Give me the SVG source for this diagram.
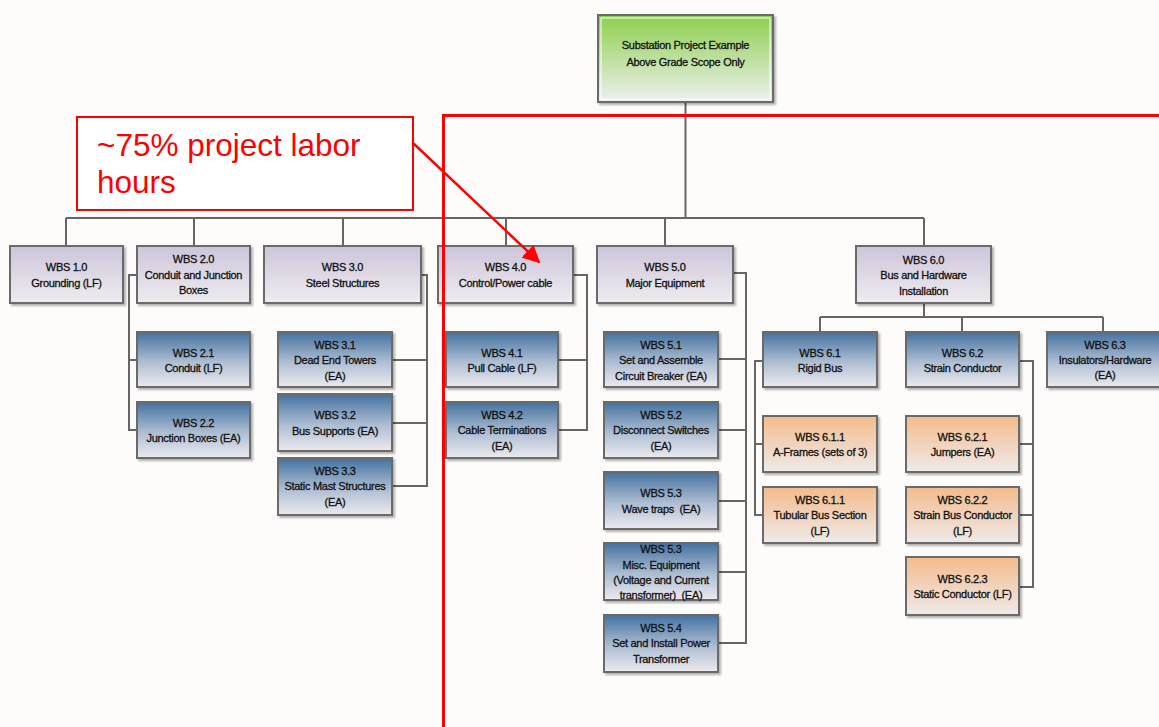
<svg xmlns="http://www.w3.org/2000/svg" width="1159" height="727" viewBox="0 0 1159 727">
<defs>
<linearGradient id="gLav" x1="0" y1="0" x2="0" y2="1"><stop offset="0" stop-color="#cdc4da"/><stop offset="1" stop-color="#eeecef"/></linearGradient>
<linearGradient id="gBlue" x1="0" y1="0" x2="0" y2="1"><stop offset="0" stop-color="#44719f"/><stop offset="0.55" stop-color="#aebed3"/><stop offset="1" stop-color="#eceaee"/></linearGradient>
<linearGradient id="gOr" x1="0" y1="0" x2="0" y2="1"><stop offset="0" stop-color="#f4bb8b"/><stop offset="1" stop-color="#eeeaea"/></linearGradient>
<linearGradient id="gGreen" x1="0" y1="0" x2="0" y2="1"><stop offset="0" stop-color="#8dcf4d"/><stop offset="1" stop-color="#eef0ee"/></linearGradient>
<filter id="sh" x="-10%" y="-10%" width="125%" height="130%"><feDropShadow dx="2" dy="2" stdDeviation="1.2" flood-color="#000" flood-opacity="0.3"/></filter>
<marker id="arr" viewBox="0 0 10 10" refX="9" refY="5" markerWidth="7" markerHeight="7" orient="auto" markerUnits="strokeWidth"><path d="M0 0 L10 5 L0 10 z" fill="#ff0000"/></marker>
<style>
.box{stroke:#6b6b6b;stroke-width:2;filter:url(#sh)}
.lav{fill:url(#gLav)}
.blue{fill:url(#gBlue)}
.or{fill:url(#gOr)}
.t{font-family:"Liberation Sans",Arial,sans-serif;font-size:11px;fill:#111;stroke:#111;stroke-width:0.3px;text-anchor:middle;letter-spacing:-0.3px;white-space:pre}
.con{fill:none;stroke:#666;stroke-width:2}
.red{fill:none;stroke:#ff0000}
.ann{font-family:"Liberation Sans",Arial,sans-serif;font-size:31.5px;fill:#ff0000}
</style>
</defs>
<rect x="0" y="0" width="1159" height="727" fill="#fdfcfb"/>

<g id="connectors">
<path class="con" d="M685.5 102 V218 M66 218 H924 M66 218 V246 M194 218 V246 M343 218 V246 M506 218 V246 M665 218 V246 M924 218 V246"/>
<path class="con" d="M137 275 H129 V430 H137 M129 360 H137"/>
<path class="con" d="M421 275 H427 V486 H392 M427 360 H392 M427 423 H392"/>
<path class="con" d="M573 275 H587 V430 H558 M587 360 H558"/>
<path class="con" d="M733 273 H746 V643 H718 M746 359 H718 M746 430 H718 M746 501 H718 M746 572 H718"/>
<path class="con" d="M924 303 V317 M820 317 H1103 M820 317 V332 M962 317 V332 M1103 317 V332"/>
<path class="con" d="M763 361 H755 V515 H763 M755 444 H763"/>
<path class="con" d="M1019 361 H1033 V587 H1019 M1033 444 H1019 M1033 515 H1019"/>
</g>

<g id="top">
<rect class="box" x="598" y="15" width="175" height="87" fill="url(#gGreen)"/>
<rect x="601" y="18" width="169" height="81" fill="none" stroke="#ffffff" stroke-width="1"/>
<text class="t" x="685.5" y="49">Substation Project Example</text>
<text class="t" x="685.5" y="66">Above Grade Scope Only</text>
</g>

<g id="wbs1"><rect class="box lav" x="10" y="246" width="113" height="57"/>
<text class="t" x="66.5" y="271">WBS 1.0</text><text class="t" x="66.5" y="287">Grounding (LF)</text></g>
<g id="wbs2"><rect class="box lav" x="137" y="246" width="113" height="57"/>
<text class="t" x="193.5" y="263">WBS 2.0</text><text class="t" x="193.5" y="279">Conduit and Junction</text><text class="t" x="193.5" y="294">Boxes</text></g>
<g id="wbs3"><rect class="box lav" x="264" y="246" width="157" height="57"/>
<text class="t" x="342.5" y="271">WBS 3.0</text><text class="t" x="342.5" y="287">Steel Structures</text></g>
<g id="wbs4"><rect class="box lav" x="438" y="246" width="135" height="57"/>
<text class="t" x="505.5" y="271">WBS 4.0</text><text class="t" x="505.5" y="287">Control/Power cable</text></g>
<g id="wbs5"><rect class="box lav" x="597" y="246" width="136" height="57"/>
<text class="t" x="665" y="271">WBS 5.0</text><text class="t" x="665" y="287">Major Equipment</text></g>
<g id="wbs6"><rect class="box lav" x="856" y="246" width="135" height="57"/>
<text class="t" x="923.5" y="264">WBS 6.0</text><text class="t" x="923.5" y="279">Bus and Hardware</text><text class="t" x="923.5" y="295">Installation</text></g>

<g id="wbs21"><rect class="box blue" x="137" y="332" width="113" height="55"/>
<text class="t" x="193.5" y="357">WBS 2.1</text><text class="t" x="193.5" y="372">Conduit (LF)</text></g>
<g id="wbs22"><rect class="box blue" x="137" y="402" width="113" height="56"/>
<text class="t" x="193.5" y="427">WBS 2.2</text><text class="t" x="193.5" y="442">Junction Boxes (EA)</text></g>

<g id="wbs31"><rect class="box blue" x="278" y="332" width="114" height="55"/>
<text class="t" x="335" y="349">WBS 3.1</text><text class="t" x="335" y="364">Dead End Towers</text><text class="t" x="335" y="380">(EA)</text></g>
<g id="wbs32"><rect class="box blue" x="278" y="394" width="114" height="57"/>
<text class="t" x="335" y="419">WBS 3.2</text><text class="t" x="335" y="435">Bus Supports (EA)</text></g>
<g id="wbs33"><rect class="box blue" x="278" y="458" width="114" height="57"/>
<text class="t" x="335" y="475">WBS 3.3</text><text class="t" x="335" y="490">Static Mast Structures</text><text class="t" x="335" y="506">(EA)</text></g>

<g id="wbs41"><rect class="box blue" x="446" y="332" width="112" height="55"/>
<text class="t" x="502" y="357">WBS 4.1</text><text class="t" x="502" y="372">Pull Cable (LF)</text></g>
<g id="wbs42"><rect class="box blue" x="446" y="402" width="112" height="56"/>
<text class="t" x="502" y="419">WBS 4.2</text><text class="t" x="502" y="434">Cable Terminations</text><text class="t" x="502" y="450">(EA)</text></g>

<g id="wbs51"><rect class="box blue" x="604" y="332" width="114" height="55"/>
<text class="t" x="661" y="349">WBS 5.1</text><text class="t" x="661" y="364">Set and Assemble</text><text class="t" x="661" y="380">Circuit Breaker (EA)</text></g>
<g id="wbs52"><rect class="box blue" x="604" y="402" width="114" height="56"/>
<text class="t" x="661" y="419">WBS 5.2</text><text class="t" x="661" y="434">Disconnect Switches</text><text class="t" x="661" y="450">(EA)</text></g>
<g id="wbs53a"><rect class="box blue" x="604" y="472" width="114" height="57"/>
<text class="t" x="661" y="497">WBS 5.3</text><text class="t" x="661" y="513" xml:space="preserve">Wave traps  (EA)</text></g>
<g id="wbs53b"><rect class="box blue" x="604" y="543" width="114" height="57"/>
<text class="t" x="661" y="553">WBS 5.3</text><text class="t" x="661" y="569">Misc. Equipment</text><text class="t" x="661" y="584">(Voltage and Current</text><text class="t" x="661" y="599" xml:space="preserve">transformer)  (EA)</text></g>
<g id="wbs54"><rect class="box blue" x="604" y="615" width="114" height="57"/>
<text class="t" x="661" y="632">WBS 5.4</text><text class="t" x="661" y="647">Set and Install Power</text><text class="t" x="661" y="663">Transformer</text></g>

<g id="wbs61"><rect class="box blue" x="763" y="332" width="114" height="55"/>
<text class="t" x="820" y="357">WBS 6.1</text><text class="t" x="820" y="372">Rigid Bus</text></g>
<g id="wbs62"><rect class="box blue" x="906" y="332" width="113" height="55"/>
<text class="t" x="962.5" y="357">WBS 6.2</text><text class="t" x="962.5" y="372">Strain Conductor</text></g>
<g id="wbs63"><rect class="box blue" x="1047" y="332" width="116" height="55"/>
<text class="t" x="1105" y="349">WBS 6.3</text><text class="t" x="1105" y="364">Insulators/Hardware</text><text class="t" x="1105" y="379">(EA)</text></g>

<g id="wbs611a"><rect class="box or" x="763" y="416" width="114" height="56"/>
<text class="t" x="820" y="441">WBS 6.1.1</text><text class="t" x="820" y="456">A-Frames (sets of 3)</text></g>
<g id="wbs611b"><rect class="box or" x="763" y="487" width="114" height="56"/>
<text class="t" x="820" y="504">WBS 6.1.1</text><text class="t" x="820" y="519">Tubular Bus Section</text><text class="t" x="820" y="535">(LF)</text></g>
<g id="wbs621"><rect class="box or" x="906" y="416" width="113" height="56"/>
<text class="t" x="962.5" y="441">WBS 6.2.1</text><text class="t" x="962.5" y="456">Jumpers (EA)</text></g>
<g id="wbs622"><rect class="box or" x="906" y="487" width="113" height="56"/>
<text class="t" x="962.5" y="504">WBS 6.2.2</text><text class="t" x="962.5" y="519">Strain Bus Conductor</text><text class="t" x="962.5" y="535">(LF)</text></g>
<g id="wbs623"><rect class="box or" x="906" y="557" width="113" height="58"/>
<text class="t" x="962.5" y="583">WBS 6.2.3</text><text class="t" x="962.5" y="598">Static Conductor (LF)</text></g>

<g id="highlight">
<rect class="red" x="443.5" y="115.5" width="720" height="620" stroke-width="3"/>
</g>
<g id="annotation">
<rect x="77" y="117" width="336" height="93" fill="#ffffff" stroke="#ff0000" stroke-width="2"/>
<text class="ann" x="97" y="156">~75% project labor</text>
<text class="ann" x="97" y="193">hours</text>
<line x1="413" y1="143" x2="539" y2="262" stroke="#ff0000" stroke-width="2.5" marker-end="url(#arr)"/>
</g>
</svg>
